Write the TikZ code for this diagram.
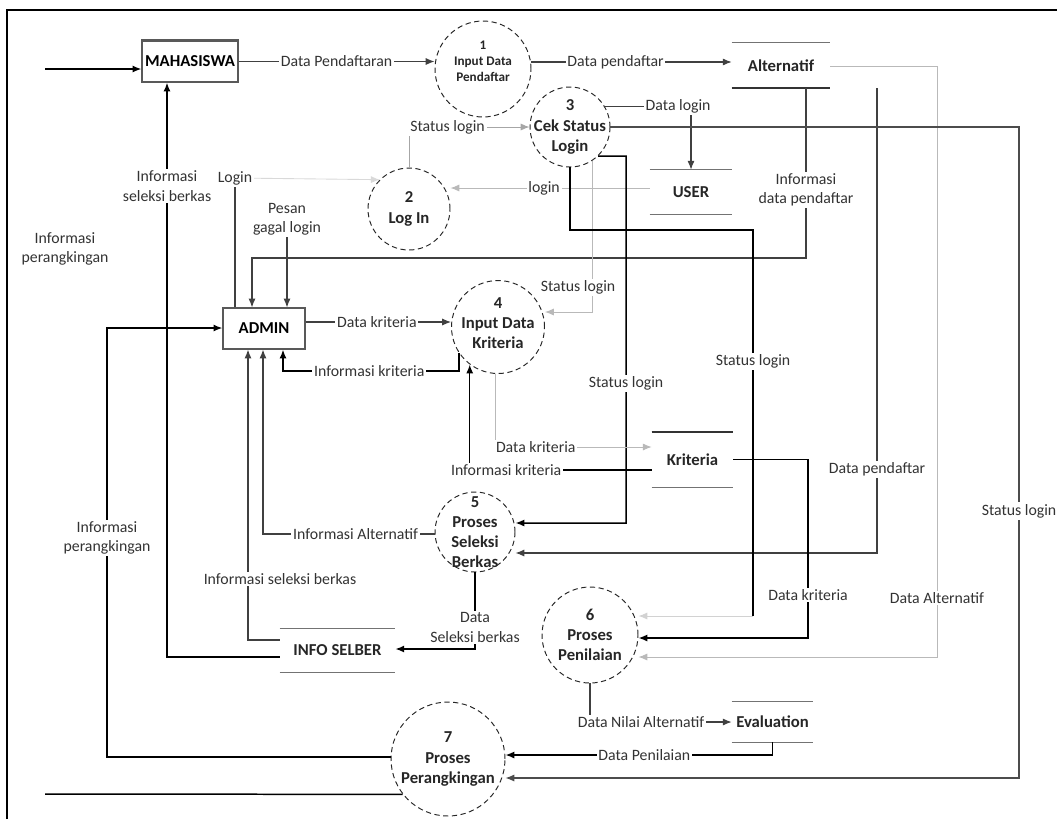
\documentclass[tikz,border=0pt]{standalone}
\usepackage{fontspec}
\setmainfont{Carlito}
\usepackage{tikz}
\usetikzlibrary{arrows.meta,positioning,calc}

\begin{document}
\begin{tikzpicture}[x=0.02cm, y=-0.02cm, font=\fontsize{9}{11}\selectfont,
    entity/.style={draw=black!65, fill=white, line width=0.7pt, inner sep=0pt,
      font=\fontsize{9.5}{12}\selectfont\bfseries},
    proc/.style={circle, draw=black!85, densely dashed, line width=0.55pt,
      inner sep=0pt, minimum size=#1},
    ptext/.style={align=center, inner sep=0pt, text=black!85,
      font=\fontsize{9.5}{11.5}\selectfont\bfseries},
    store/.style={inner sep=0pt, text=black!85, font=\fontsize{9.5}{11}\selectfont\bfseries},
    flow/.style={-{Latex[length=5pt,width=4pt]}, black!75, line width=0.6pt},
    heavy/.style={flow, black, line width=0.85pt},
    faint/.style={flow, gray!55, line width=0.5pt},
    lbl/.style={fill=white, inner sep=1pt, text=black!80, align=center}]
  \useasboundingbox (0,0) rectangle (1057,819);
  % --- frame ---
  \draw[line width=1pt] (7,819) -- (7,10) -- (1057,10);

  % --- external entities ---
  \node[entity, minimum width=1.92cm, minimum height=0.82cm] (mhs) at (190,61.5) {MAHASISWA};
  \draw[black!65, line width=1.2pt] (mhs.north west) -- (mhs.north east);
  \node[entity, minimum width=1.64cm, minimum height=0.82cm] (admin) at (264,328.5) {ADMIN};

  % --- processes ---
  \node[proc=1.92cm, label={[ptext, font=\fontsize{7.5}{9}\selectfont\bfseries, yshift=0.16cm]center:{1\\Input Data\\Pendaftar}}] (p1) at (483,69) {};
  \node[proc=1.64cm, label={[ptext]center:{2\\Log In}}] (p2) at (409,209) {};
  \node[proc=1.6cm, label={[ptext]center:{3\\Cek Status\\Login}}] (p3) at (570,127) {};
  \node[proc=1.86cm, label={[ptext, yshift=0.08cm]center:{4\\Input Data\\Kriteria}}] (p4) at (498,327) {};
  \node[proc=1.6cm, label={[ptext]center:{5\\Proses\\Seleksi\\Berkas}}] (p5) at (475,532) {};
  \node[proc=1.92cm, label={[ptext]center:{6\\Proses\\Penilaian}}] (p6) at (590,635) {};
  \node[proc=2.28cm, label={[ptext]center:{7\\Proses\\Perangkingan}}] (p7) at (448,759) {};

  % --- data stores (open ended, two rules) ---
  \node[store, minimum width=1.96cm, minimum height=0.9cm] (alt) at (781,65.5) {Alternatif};
  \node[store, minimum width=1.64cm, minimum height=0.88cm] (user) at (691,192) {USER};
  \node[store, minimum width=1.62cm, minimum height=1.1cm] (krit) at (692.5,459.5) {Kriteria};
  \node[store, minimum width=2.3cm, minimum height=0.86cm] (selber) at (337.5,650.5) {INFO SELBER};
  \node[store, minimum width=1.62cm, minimum height=0.8cm] (eval) at (772.5,722) {Evaluation};
  \foreach \s in {alt,user,krit,selber,eval}{
    \draw[black!55, line width=0.7pt] (\s.north west) -- (\s.north east)
      (\s.south west) -- (\s.south east);
  }
  \draw[black!80, line width=1.1pt] (alt.south west) -- (alt.south east)
    (krit.north west) -- (krit.north east);

  % --- flows: mahasiswa ---
  \coordinate (src) at (45,69);
  \draw[heavy] (src) -- (mhs.west |- src);
  \draw[flow] (mhs.east) -- node[lbl]{Data Pendaftaran} (p1.west |- mhs.east);
  \draw[flow] (p1.east |- 0,62) -- node[lbl, pos=0.42]{Data pendaftar} (alt.west |- 0,62);
  \draw[heavy] (selber.west |- 0,657) -- (167,657) -- node[lbl, pos=0.82]{Informasi\\seleksi berkas} (mhs.south -| 167,0);

  % --- flows: alternatif ---
  \draw[faint] (alt.east |- 0,66) -- (937,66) -- node[lbl, pos=0.9]{Data Alternatif} (937,657) -- (p6.east |- 0,657);
  \draw[flow] (alt.south -| 806,0) -- node[lbl, pos=0.6]{Informasi\\data pendaftar} (806,258) -| (admin.north -| 252,0);
  \draw[flow] (alt.south -| 877,0) -- node[lbl, pos=0.82]{Data pendaftar} (877,553) -- (p5.east |- 0,553);

  % --- flows: login ---
  \coordinate (lgn) at (235,178);
  \draw[flow, -] (admin.north -| lgn) -- (lgn);
  \draw[faint, gray!30] (lgn) -- (p2.north west);
  \node[lbl] (lgnl) at (lgn) {Login};
  \node[lbl] (pgl) at (287,219) {Pesan\\gagal login};
  \draw[flow] (pgl.south) -- (admin.north -| pgl.south);
  \draw[faint, gray!70] (p2.north) |- node[lbl, pos=0.66]{Status login} (p3.west);
  \draw[faint] (user.west |- 0,188) -- node[lbl, pos=0.53]{login} (p2.east |- 0,188);
  \draw[flow] (p3.30) -| node[lbl, pos=0.425]{Data login} (user.north);

  % --- flows: status login out of 3 ---
  \draw[flow, black!70] (p3.east) -- (1019,127) -- node[lbl, pos=0.59]{Status login} (1019,778) -- (p7.east |- 0,778);
  \draw[faint] (p3.-57) |- node[lbl, pos=0.42, xshift=-0.28cm]{Status login} (p4.east |- 0,312);
  \draw[heavy] (p3.-46) -- (626,156) -- node[lbl, pos=0.62]{Status login} (626,523) -- (p5.east |- 0,523);
  \coordinate (sl6) at (753,616);
  \draw[heavy, -] (p3.south) -- (570,230) -- (753,230) -- node[lbl, pos=0.34]{Status login} (sl6);
  \draw[faint, gray!35] (sl6) -- (p6.east |- sl6);

  % --- flows: kriteria ---
  \draw[flow] (admin.east |- 0,322) -- node[lbl, pos=0.49]{Data kriteria} (p4.west |- 0,322);
  \draw[heavy] (p4.-146) |- node[lbl, pos=0.755]{Informasi kriteria} (283,371) -- (admin.south -| 283,0);
  \draw[heavy] (krit.west |- 0,470) -| node[lbl, pos=0.4]{Informasi kriteria} (p4.-127);
  \draw[faint] (p4.south -| 495,0) |- node[lbl, pos=0.63]{Data kriteria} (krit.west |- 0,447);
  \draw[heavy] (krit.east) -- (808,459.5) -- node[lbl, pos=0.76]{Data kriteria} (808,638) -- (p6.east |- 0,638);

  % --- flows: seleksi berkas ---
  \draw[flow] (p5.west |- 0,534) -- node[lbl, pos=0.46]{Informasi Alternatif} (263,534) -- (admin.south -| 263,0);
  \draw[flow] (selber.west |- 0,640) -- (248,640) -- node[lbl, pos=0.21, xshift=0.64cm]{Informasi seleksi berkas} (admin.south -| 248,0);
  \draw[heavy] (p5.south) |- node[lbl, pos=0.36]{Data\\Seleksi berkas} (selber.east |- 0,649);

  % --- flows: penilaian, perangkingan ---
  \draw[flow] (p6.south) |- node[lbl, pos=0.68]{Data Nilai Alternatif} (eval.west);
  \draw[heavy] (eval.south) |- node[lbl, pos=0.74]{Data Penilaian} (p7.east |- 0,755);
  \draw[heavy] (p7.west |- 0,757) -- (107,757) -- node[lbl, pos=0.51]{Informasi\\perangkingan} (107,328) -- (admin.west |- 0,328);
  \coordinate (dst) at (45,794);
  \draw[heavy, -] (p7.218) -- (dst);
  \node[lbl] (infrank) at (65,249) {Informasi\\perangkingan};
\end{tikzpicture}
\end{document}
